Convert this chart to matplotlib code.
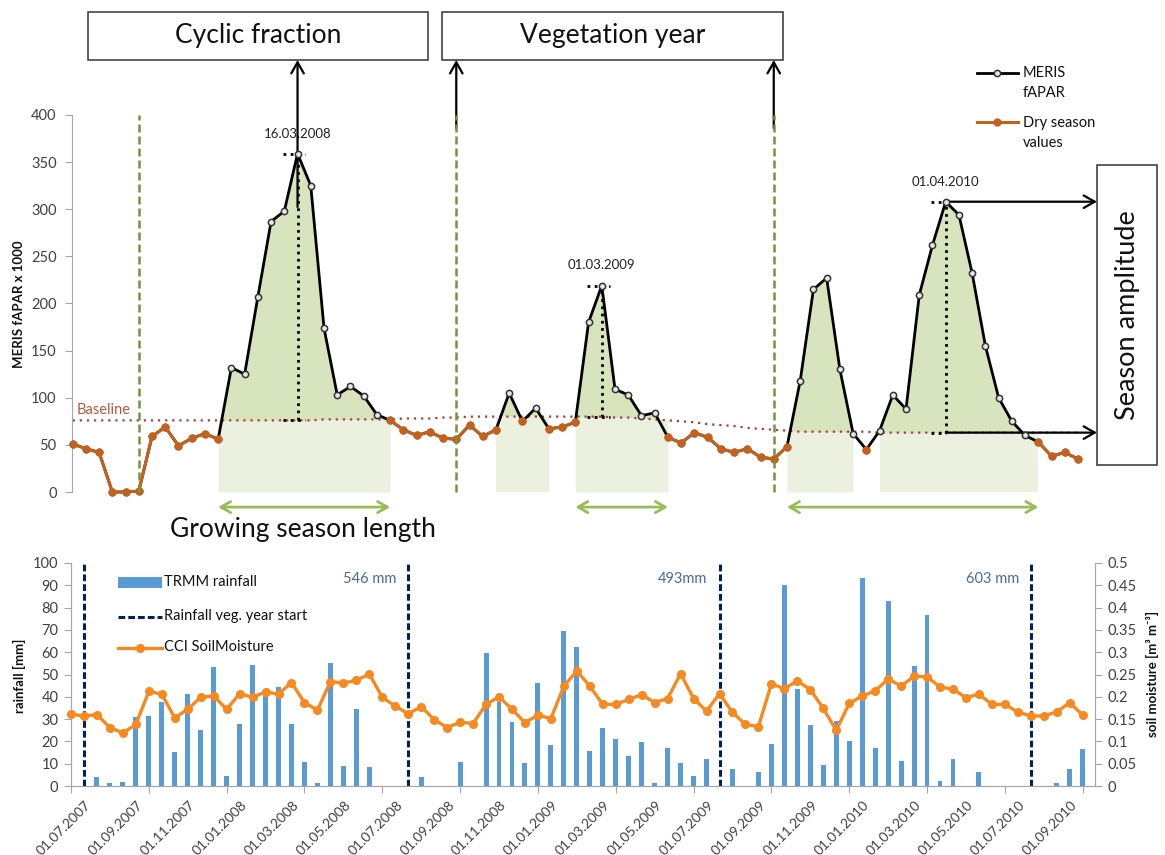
import numpy as np
import matplotlib
matplotlib.use("Agg")
import matplotlib.pyplot as plt
import matplotlib.transforms as mtransforms
from matplotlib.patches import Rectangle
from matplotlib.lines import Line2D

plt.rcParams['font.family'] = ['Lato', 'DejaVu Sans']

# ---------------- data: top panel (MERIS fAPAR x 1000, semi-monthly) ----------------
fapar = [51, 46, 42, 0, 0, 1, 59, 69, 49, 57, 62, 56,
         132, 125, 207, 287, 298, 359, 325, 174, 103, 112, 102, 82,
         76, 66, 60, 64, 57, 56, 71, 59, 66,
         105, 75, 89, 67, 69, 74,
         180, 219, 109, 103, 81, 84,
         58, 52, 63, 58, 46, 42, 46, 37, 35, 48,
         118, 215, 227, 130, 62, 45,
         65, 103, 88, 209, 262, 308, 294, 232, 155, 100, 75, 60,
         53, 38, 42, 35]
baseline = ([76] * 19 + [77] * 6 + [78] * 3 + [79] * 2 + [80] * 11 + [79] * 2 +
            [78, 77, 76, 75, 74, 72, 71, 70, 68, 67, 66, 65] + [64] * 6 + [63] * 16)
dry_ranges = [(0, 11), (24, 32), (34, 34), (36, 38), (45, 54), (60, 60), (73, 76)]
season_ranges = [(11, 24), (32, 36), (38, 45), (54, 59), (61, 73)]
gsl_ranges = [(11, 24), (38, 45), (54, 73)]
veg_year_idx = [5, 29, 53]
peak_idx = [17, 40, 66]
peak_labels = ['16.03.2008', '01.03.2009', '01.04.2010']

# ---------------- data: bottom panel ----------------
rain = [0, 0, 3.9, 1.2, 1.9, 31, 31.5, 37.8, 15.4, 41.2,
        25, 53.4, 4.5, 28, 54.2, 41.5, 44.5, 28, 10.7, 1.2,
        55.2, 9, 34.6, 8.5, 0, 0, 0, 4.2, 0, 0,
        10.7, 0, 59.7, 37.8, 28.5, 10.4, 46, 18.4, 69.4, 62.4,
        15.7, 25.8, 21, 13.6, 19.9, 1.2, 17.2, 10.4, 4.5, 12,
        0, 7.5, 0, 6.4, 19, 90.3, 43.3, 27.3, 9.4, 29.1,
        20.1, 93.3, 17.2, 83, 11.3, 53.9, 76.6, 2.4, 11.9, 0,
        6.4, 0, 0, 0, 0, 0, 1.2, 7.6, 16.4]
soil = [0.161, 0.157, 0.160, 0.131, 0.119, 0.138, 0.212, 0.206, 0.153, 0.172,
        0.199, 0.202, 0.172, 0.207, 0.199, 0.211, 0.206, 0.232, 0.187, 0.170,
        0.234, 0.231, 0.237, 0.251, 0.199, 0.179, 0.162, 0.178, 0.149, 0.131,
        0.143, 0.140, 0.183, 0.200, 0.172, 0.142, 0.159, 0.151, 0.224, 0.258,
        0.224, 0.183, 0.183, 0.194, 0.205, 0.187, 0.196, 0.252, 0.196, 0.168,
        0.207, 0.165, 0.138, 0.133, 0.229, 0.218, 0.236, 0.216, 0.174, 0.125,
        0.185, 0.202, 0.213, 0.240, 0.224, 0.246, 0.245, 0.222, 0.217, 0.198,
        0.206, 0.183, 0.183, 0.166, 0.157, 0.157, 0.166, 0.187, 0.159]
rain_year_start = [1, 26, 50, 74]
rain_totals = ['546 mm', '493mm', '603 mm']
date_labels = ['01.07.2007', '01.09.2007', '01.11.2007', '01.01.2008', '01.03.2008',
               '01.05.2008', '01.07.2008', '01.09.2008', '01.11.2008', '01.01.2009',
               '01.03.2009', '01.05.2009', '01.07.2009', '01.09.2009', '01.11.2009',
               '01.01.2010', '01.03.2010', '01.05.2010', '01.07.2010', '01.09.2010']

# ---------------- layout helpers ----------------
W, H = 1165, 855
fig = plt.figure(figsize=(W / 100, H / 100), dpi=100)


def fx(p):
    return p / W


def fy(p):
    return 1 - p / H


GRAY = '#a6a6a6'
TXT = '#404040'
GREEN_DARK = '#d7e4bd'
GREEN_LIGHT = '#ebf1de'
GREEN_LINE = '#77933c'
GREEN_ARROW = '#9bbb59'
ORANGE_TOP = '#c3621f'
ORANGE_BOT = '#f6891f'
BLUE = '#5b9bd5'
NAVY = '#002060'

# ======================= TOP PANEL =======================
ax = fig.add_axes([fx(72), fy(492), fx(1078) - fx(72), (492 - 115) / H])
n = len(fapar)
x = np.arange(n)
fa = np.array(fapar, dtype=float)
bl = np.array(baseline, dtype=float)

ax.set_xlim(-0.05, n - 1)
ax.set_ylim(0, 400)

# light rectangles and dark fills for growing seasons
for a, b in season_ranges:
    xs = x[a:b + 1]
    ax.fill_between(xs, 0, bl[a:b + 1], color=GREEN_LIGHT, lw=0, zorder=1)
    ax.fill_between(xs, fa[a:b + 1], bl[a:b + 1], where=fa[a:b + 1] > bl[a:b + 1],
                    interpolate=True, color=GREEN_DARK, lw=0, zorder=1)

# baseline
ax.plot(x, bl, color='#a5403f', lw=1.6, linestyle=(0, (1, 2.2)), zorder=2)
ax.text(0.3, 87, 'Baseline', color='#b9573f', fontsize=10.5, ha='left', va='center')

# peak markers (dotted)
for p, lab in zip(peak_idx, peak_labels):
    ax.plot([p, p], [bl[p], fa[p]], color='black', lw=2.0, linestyle=(0, (1, 1.6)), zorder=3)
    right = 0.6 if p != peak_idx[-1] else 0.0
    ax.plot([p - 1.1, p + right], [fa[p], fa[p]], color='black', lw=2.0,
            linestyle=(0, (1, 1.6)), zorder=3)
    ax.plot([p - 1.1, p + right], [bl[p], bl[p]], color='black', lw=2.0,
            linestyle=(0, (1, 1.6)), zorder=3)
    ax.text(p, fa[p] + 15, lab, fontsize=9.5, ha='center', va='bottom', color='#222222')

# MERIS fAPAR black line
ax.plot(x, fa, color='black', lw=2.0, marker='o', ms=4.5, mfc='#e8e8e8', mec='#333333',
        mew=1.1, zorder=4, clip_on=False)
# dry-season orange
dry = np.full(n, np.nan)
for a, b in dry_ranges:
    dry[a:b + 1] = fa[a:b + 1]
ax.plot(x, dry, color=ORANGE_TOP, lw=2.2, marker='o', ms=5, mfc=ORANGE_TOP, mec=ORANGE_TOP,
        zorder=5, clip_on=False)

# vegetation-year green dashed lines
for v in veg_year_idx:
    ax.plot([v, v], [0, 400], color=GREEN_LINE, lw=1.8, dashes=(3.2, 1.6), zorder=6, clip_on=False)

# growing season length arrows
for a, b in gsl_ranges:
    ax.annotate('', xy=(b, -16), xytext=(a, -16),
                arrowprops=dict(arrowstyle='<->,head_length=0.7,head_width=0.4',
                                color=GREEN_ARROW, lw=2.0, shrinkA=0, shrinkB=0),
                annotation_clip=False)

# arrows to the boxes
box_bottom = fy(60)
ax.annotate('', xy=(peak_idx[0], box_bottom), xycoords=('data', 'figure fraction'),
            xytext=(peak_idx[0], fy(207)), textcoords=('data', 'figure fraction'),
            arrowprops=dict(arrowstyle='->,head_length=0.8,head_width=0.45', color='black',
                            lw=1.6, shrinkA=0, shrinkB=0), annotation_clip=False)
for v in veg_year_idx[1:]:
    ax.annotate('', xy=(v, box_bottom), xycoords=('data', 'figure fraction'),
                xytext=(v, fy(128)), textcoords=('data', 'figure fraction'),
                arrowprops=dict(arrowstyle='->,head_length=0.8,head_width=0.45', color='black',
                                lw=1.6, shrinkA=0, shrinkB=0), annotation_clip=False)

# season amplitude arrows
p = peak_idx[-1]
for yv in (fa[p], bl[p]):
    ax.annotate('', xy=(fx(1097), yv), xycoords=('figure fraction', 'data'),
                xytext=(p, yv), textcoords='data',
                arrowprops=dict(arrowstyle='->,head_length=0.8,head_width=0.45', color='black',
                                lw=1.6, shrinkA=0, shrinkB=0), annotation_clip=False)

for s in ['top', 'right', 'bottom']:
    ax.spines[s].set_visible(False)
ax.spines['left'].set_color(GRAY)
ax.set_xticks([])
ax.set_yticks(np.arange(0, 401, 50))
ax.tick_params(axis='y', colors=GRAY, labelcolor=TXT, labelsize=10.5, length=5, pad=6)
fig.text(fx(19), fy(304), 'MERIS fAPAR x 1000', rotation=90, fontsize=9.5, fontweight='bold',
         ha='center', va='center', color='#111111')

# boxes
for (x0, x1, y0, y1, label, rot, fs) in [(88, 428, 12, 60, 'Cyclic fraction', 0, 19),
                                          (442, 783, 12, 60, 'Vegetation year', 0, 19),
                                          (1097, 1157, 165, 465, 'Season amplitude', 90, 19.5)]:
    fig.add_artist(Rectangle((fx(x0), fy(y1)), fx(x1) - fx(x0), (y1 - y0) / H,
                             transform=fig.transFigure, fill=False, ec='#333333', lw=1.1))
    fig.text(fx((x0 + x1) / 2), fy((y0 + y1) / 2), label, rotation=rot, fontsize=fs,
             ha='center', va='center', color='#111111')

fig.text(fx(303), fy(530), 'Growing season length', fontsize=19, ha='center', va='center',
         color='#111111')

# top legend
fig.add_artist(Line2D([fx(977), fx(1018)], [fy(73), fy(73)], transform=fig.transFigure,
                      color='black', lw=2.0))
fig.add_artist(Line2D([fx(997)], [fy(73)], transform=fig.transFigure, marker='o', ms=4.5,
                      mfc='#e8e8e8', mec='#333333', mew=1.1, color='black'))
fig.text(fx(1023), fy(83), 'MERIS\nfAPAR', fontsize=10.5, ha='left', va='center',
         linespacing=1.5, color='#111111')
fig.add_artist(Line2D([fx(977), fx(1018)], [fy(122), fy(122)], transform=fig.transFigure,
                      color=ORANGE_TOP, lw=2.2))
fig.add_artist(Line2D([fx(997)], [fy(122)], transform=fig.transFigure, marker='o', ms=5,
                      mfc=ORANGE_TOP, mec=ORANGE_TOP, color=ORANGE_TOP))
fig.text(fx(1023), fy(133), 'Dry season\nvalues', fontsize=10.5, ha='left', va='center',
         linespacing=1.5, color='#111111')

# ======================= BOTTOM PANEL =======================
bx = fig.add_axes([fx(71), fy(786), fx(1095) - fx(71), (786 - 563) / H])
m = len(rain)
xb = np.arange(m)
bx.set_xlim(0, 78.95)
bx.set_ylim(0, 100)
bx.bar(xb, rain, width=0.38, color=BLUE, zorder=2)
for v in rain_year_start:
    bx.axvline(v, color=NAVY, lw=2.2, dashes=(2.2, 1.0), zorder=4)
for v, t in zip(rain_year_start[1:], rain_totals):
    bx.annotate(t, xy=(v, 93), xytext=(-12, 0), textcoords='offset pixels', ha='right',
                va='center', fontsize=10.5, color='#4a6a9c')

bx2 = bx.twinx()
bx2.set_ylim(0, 0.5)
bx2.plot(xb, soil, color=ORANGE_BOT, lw=2.4, marker='o', ms=5.5, mfc=ORANGE_BOT,
         mec=ORANGE_BOT, zorder=5, clip_on=False)

for a_ in (bx, bx2):
    a_.spines['top'].set_visible(False)
    for s in ['left', 'right', 'bottom']:
        a_.spines[s].set_color(GRAY)
bx.set_yticks(np.arange(0, 101, 10))
bx.tick_params(axis='y', colors=GRAY, labelcolor=TXT, labelsize=10.5, length=5, pad=4)
bx2.set_yticks(np.round(np.arange(0, 0.501, 0.05), 2))
bx2.set_yticklabels(['0', '0.05', '0.1', '0.15', '0.2', '0.25', '0.3', '0.35', '0.4',
                     '0.45', '0.5'])
bx2.tick_params(axis='y', colors=GRAY, labelcolor=TXT, labelsize=10.5, length=5, pad=4)

bx.xaxis.remove_overlapping_locs = False
bx.set_xticks(np.arange(0, 79, 6))
bx.set_xticklabels([])
bx.set_xticks(np.arange(0, 77, 4), minor=True)
bx.set_xticklabels(date_labels, minor=True)
bx.tick_params(axis='x', which='major', colors=GRAY, length=5)
bx.tick_params(axis='x', which='minor', length=0, labelsize=10, labelcolor=TXT, pad=9)
offset = mtransforms.ScaledTranslation(14 / 100, 0, fig.dpi_scale_trans)
for lab in bx.get_xticklabels(minor=True):
    lab.set_rotation(45)
    lab.set_ha('right')
    lab.set_va('top')
    lab.set_rotation_mode('anchor')
    lab.set_transform(lab.get_transform() + offset)

fig.text(fx(19), fy(676), 'rainfall [mm]', rotation=90, fontsize=9.5, fontweight='bold',
         ha='center', va='center', color='#111111')
fig.text(fx(1152), fy(674), 'soil moisture [m\u00b3 m\u207b\u00b3]', rotation=90, fontsize=9.5,
         fontweight='bold', ha='center', va='center', color='#111111')

# bottom legend
fig.add_artist(Rectangle((fx(118), fy(588)), fx(162) - fx(118), 11 / H,
                         transform=fig.transFigure, color=BLUE, lw=0))
fig.text(fx(164), fy(582), 'TRMM rainfall', fontsize=10.5, ha='left', va='center', color='#111111')
fig.add_artist(Line2D([fx(118), fx(162)], [fy(617), fy(617)], transform=fig.transFigure,
                      color=NAVY, lw=2.2, dashes=(2.2, 1.0)))
fig.text(fx(164), fy(616), 'Rainfall veg. year start', fontsize=10.5, ha='left', va='center',
         color='#111111')
fig.add_artist(Line2D([fx(118), fx(162)], [fy(648), fy(648)], transform=fig.transFigure,
                      color=ORANGE_BOT, lw=2.4))
fig.add_artist(Line2D([fx(140)], [fy(648)], transform=fig.transFigure, marker='o', ms=5.5,
                      mfc=ORANGE_BOT, mec=ORANGE_BOT, color=ORANGE_BOT))
fig.text(fx(164), fy(647), 'CCI SoilMoisture', fontsize=10.5, ha='left', va='center',
         color='#111111')

fig.savefig('out.png', dpi=100, facecolor='white')
